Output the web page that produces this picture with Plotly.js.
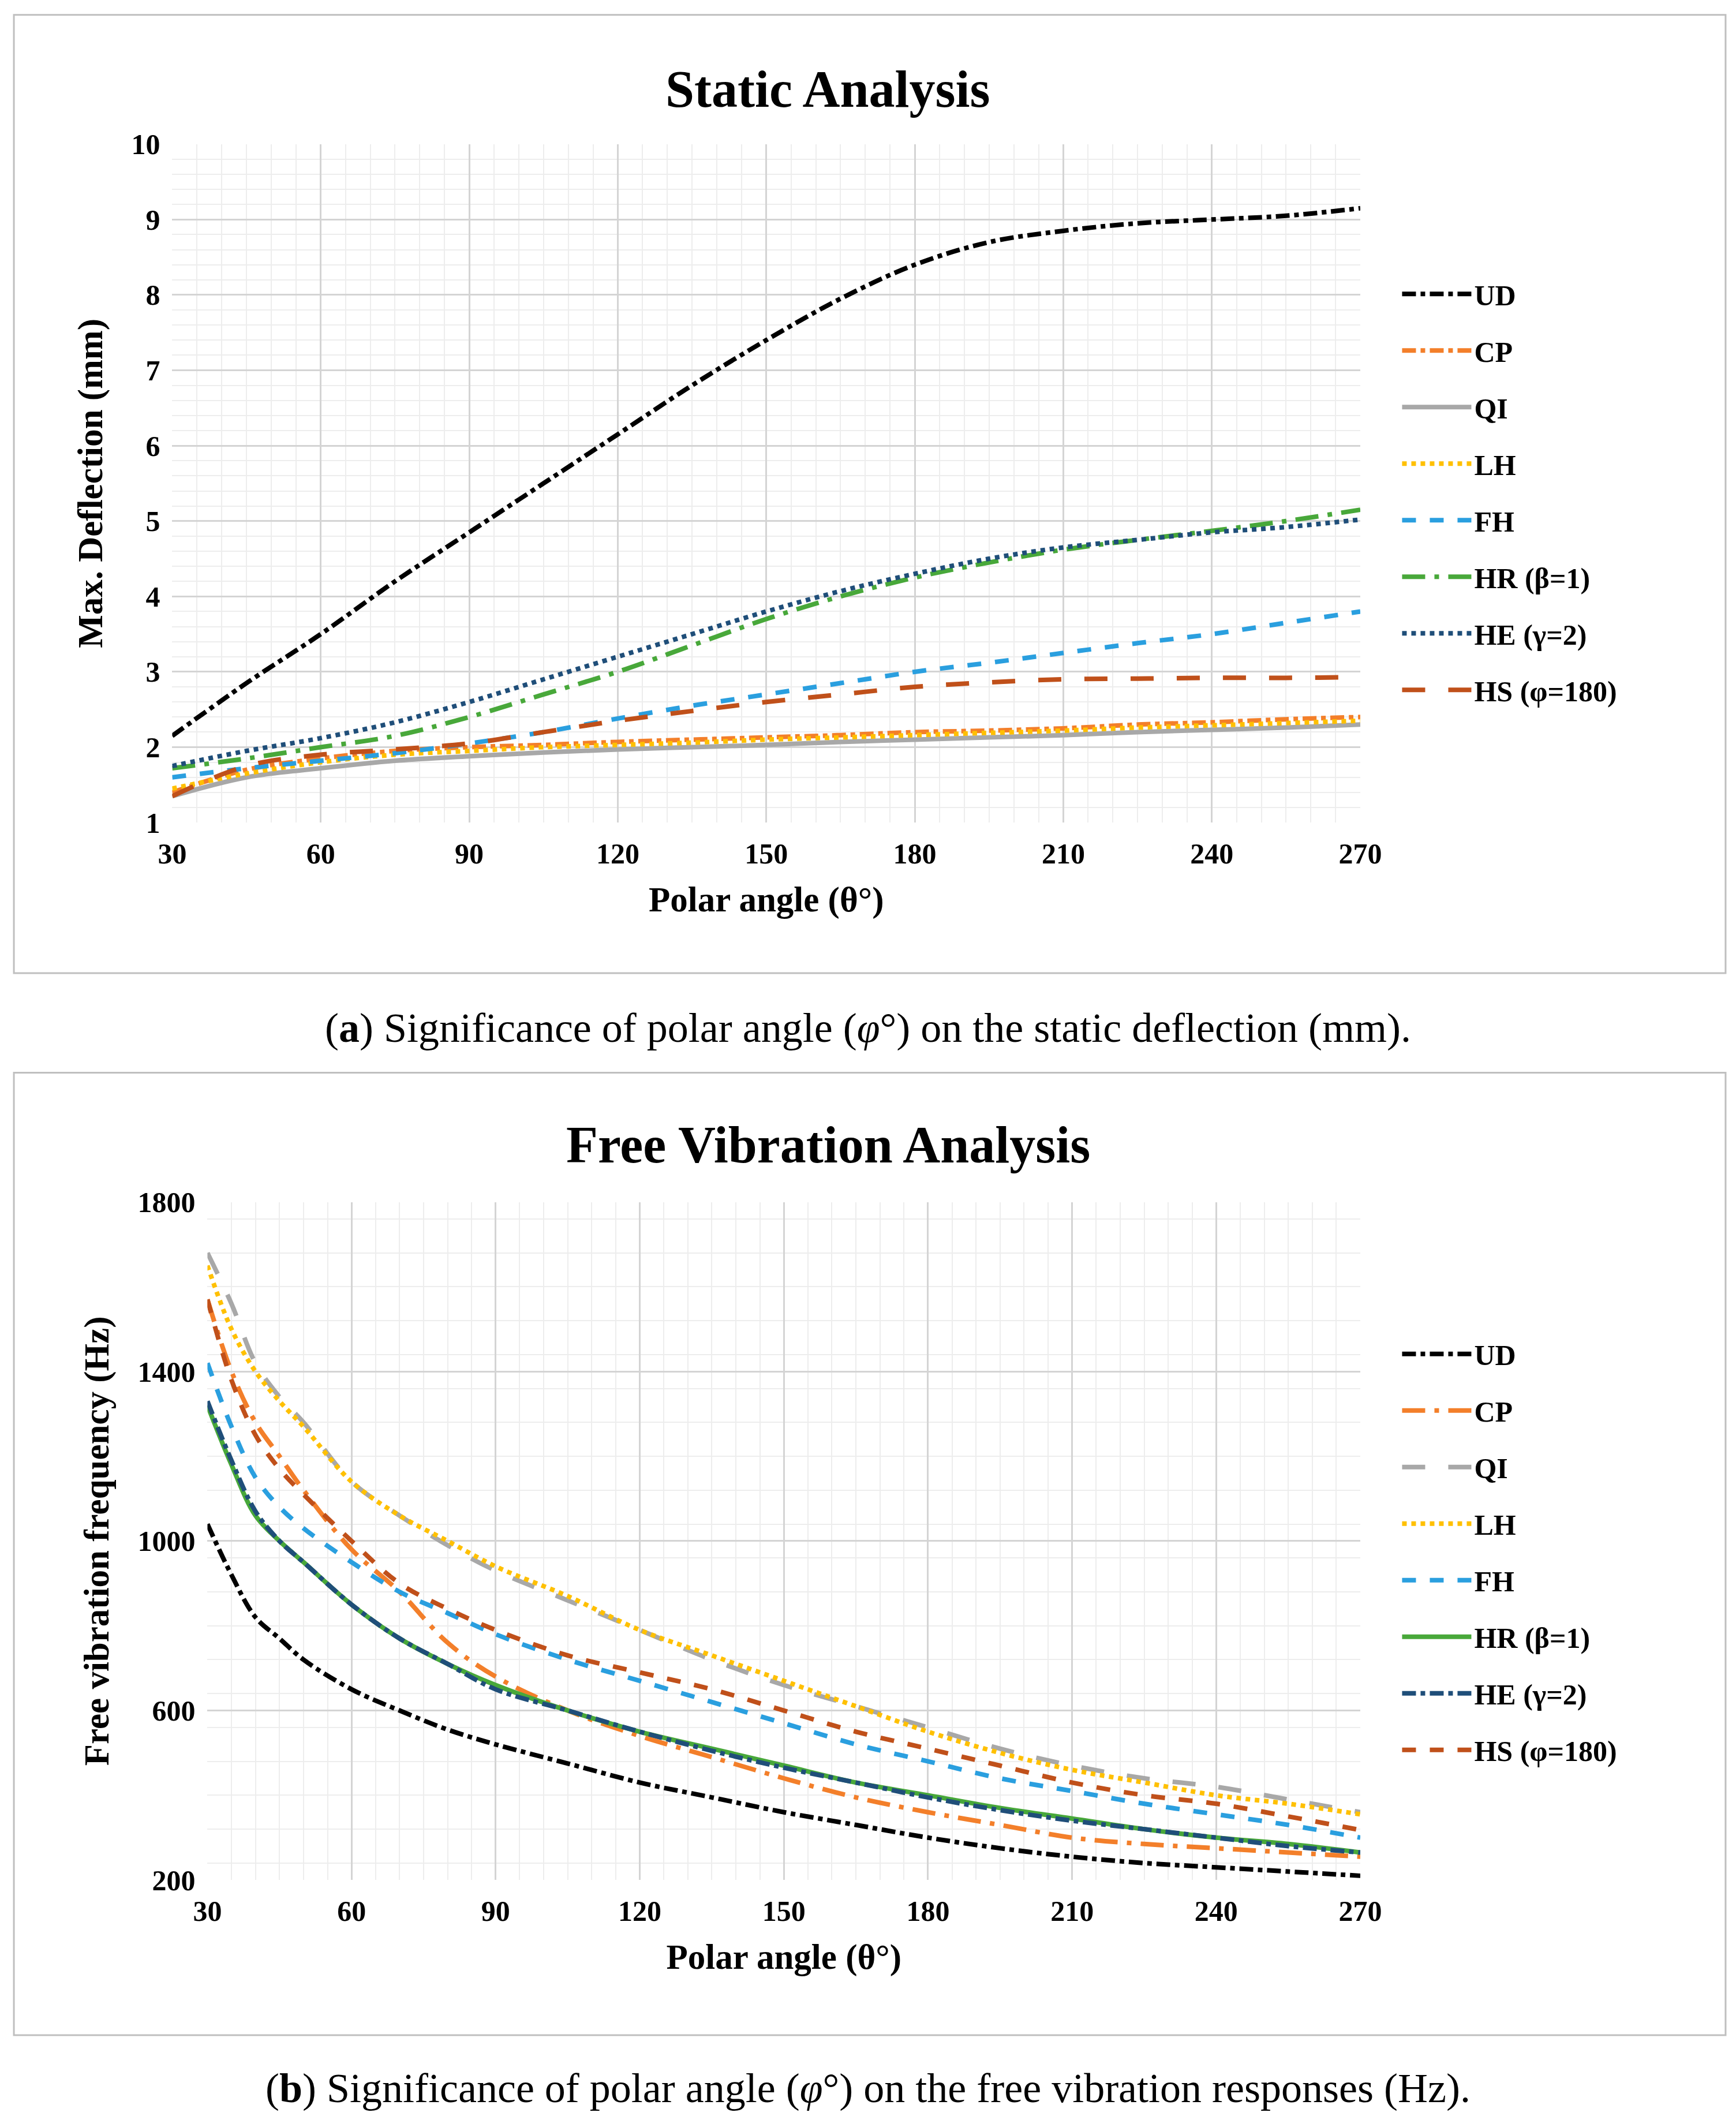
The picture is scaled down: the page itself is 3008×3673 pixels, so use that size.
<!DOCTYPE html>
<html>
<head>
<meta charset="utf-8">
<script src="https://cdn.plot.ly/plotly-3.0.1.min.js"></script>
<style>body{margin:0;background:#fff}#chart{width:3008px;height:3673px}</style>
</head>
<body>
<div id="chart"></div>
<script>
// series names
const names = ['UD', 'CP', 'QI', 'LH', 'FH', 'HR (β=1)', 'HE (γ=2)', 'HS (φ=180)'];

// static analysis: max deflection (mm)
const staticX = [30,45,60,75,90,105,120,135,150,165,180,195,210,225,240,255,270];
const staticUD = [2.15,2.85,3.5,4.2,4.85,5.5,6.15,6.8,7.4,7.95,8.4,8.7,8.85,8.95,9.0,9.05,9.15];
const staticCP = [1.4,1.7,1.85,1.95,2.0,2.03,2.07,2.1,2.13,2.16,2.2,2.22,2.25,2.3,2.33,2.37,2.4];
const staticQI = [1.35,1.6,1.72,1.82,1.88,1.93,1.97,2.0,2.03,2.07,2.1,2.13,2.16,2.2,2.23,2.26,2.3];
const staticLH = [1.45,1.65,1.8,1.9,1.95,2.0,2.03,2.06,2.1,2.13,2.16,2.19,2.22,2.26,2.29,2.32,2.35];
const staticFH = [1.6,1.72,1.82,1.92,2.05,2.2,2.38,2.55,2.7,2.85,3.0,3.12,3.25,3.38,3.5,3.65,3.8];
const staticHR = [1.72,1.85,2.0,2.15,2.4,2.7,3.0,3.35,3.7,4.0,4.25,4.45,4.62,4.75,4.87,5.0,5.15];
const staticHE = [1.75,1.95,2.12,2.33,2.6,2.9,3.2,3.5,3.8,4.07,4.3,4.5,4.65,4.75,4.85,4.92,5.02];
const staticHS = [1.35,1.75,1.9,1.97,2.05,2.2,2.35,2.48,2.6,2.7,2.8,2.86,2.9,2.91,2.92,2.92,2.93];

// free vibration frequency (Hz)
const freeX = [30,35,40,45,50,60,70,80,90,105,120,135,150,165,180,195,210,225,240,255,270];
const freeUD = [1040,920,820,770,720,650,600,555,520,475,430,395,360,330,300,275,255,240,230,220,210];
const freeCP = [1570,1400,1280,1200,1120,980,880,760,680,600,540,490,440,395,360,330,300,285,275,265,255];
const freeQI = [1680,1560,1420,1340,1280,1140,1060,990,930,860,790,720,660,610,560,510,470,440,420,390,360];
const freeLH = [1650,1500,1400,1330,1270,1140,1060,1000,940,870,790,730,670,610,550,500,460,430,400,380,355];
const freeFH = [1420,1270,1150,1080,1030,950,880,830,780,720,670,620,570,520,480,440,410,380,355,330,300];
const freeHR = [1320,1180,1060,1000,950,850,770,710,660,600,550,510,470,430,400,370,345,320,300,285,265];
const freeHE = [1330,1190,1070,1000,950,850,770,710,650,600,550,505,465,430,395,365,340,320,300,280,265];
const freeHS = [1570,1380,1250,1170,1110,1000,900,840,790,730,690,650,600,550,510,470,430,400,380,350,318];

const colors = ['#000000','#F37F2A','#A8A8A8','#FFC000','#2A9FDF','#48A83A','#1F4E79','#C0501A'];
const topDash = ['dashdot','dashdot','solid','dot','dash','longdashdot','dot','longdash'];
const botDash = ['dashdot','longdashdot','longdash','dot','dash','solid','dashdot','dash'];

const staticY = [staticUD,staticCP,staticQI,staticLH,staticFH,staticHR,staticHE,staticHS];
const freeY = [freeUD,freeCP,freeQI,freeLH,freeFH,freeHR,freeHE,freeHS];

const serif = 'Liberation Serif, Times New Roman, serif';
const traces = [];
names.forEach((n, i) => {
  traces.push({x: staticX, y: staticY[i], name: '<b>' + n + '</b>', mode: 'lines', line: {color: colors[i], width: 8, dash: topDash[i], shape: 'spline'},
    xaxis: 'x', yaxis: 'y', legend: 'legend', legendgroup: 'a' + i});
});
names.forEach((n, i) => {
  traces.push({x: freeX, y: freeY[i], name: '<b>' + n + '</b>', mode: 'lines', line: {color: colors[i], width: 8, dash: botDash[i], shape: 'spline'},
    xaxis: 'x2', yaxis: 'y2', legend: 'legend2', legendgroup: 'b' + i});
});

const tickFont = {family: serif, size: 50, color: '#000', weight: 'bold'};
const axTitleFont = {family: serif, size: 61, color: '#000'};
const minorGrid = d => ({dtick: d, showgrid: true, gridcolor: '#EDEDED', gridwidth: 2});
function axis(extra) {
  return Object.assign({
    showline: false, zeroline: false, ticks: '', gridcolor: '#D4D4D4', gridwidth: 3,
    tickfont: tickFont, ticklabelstandoff: 20
  }, extra);
}

const legendBase = {font: {family: serif, size: 50, color: '#000'}, tracegroupgap: 30, itemwidth: 120,
  bgcolor: 'rgba(0,0,0,0)', xanchor: 'left', yanchor: 'top'};

const layout = {
  width: 3008, height: 3673, margin: {l: 0, r: 0, t: 0, b: 0},
  paper_bgcolor: '#fff', plot_bgcolor: '#fff', showlegend: true,
  xaxis: axis({domain: [0.0992, 0.7836], range: [30, 270], dtick: 30, tick0: 30, minor: minorGrid(5),
    title: {text: '<b>Polar angle (θ°)</b>', font: axTitleFont, standoff: 30}}),
  yaxis: axis({domain: [0.612, 0.932], range: [1, 10], dtick: 1, minor: minorGrid(0.2),
    title: {text: '<b>Max. Deflection (mm)</b>', font: axTitleFont, standoff: 30}}),
  xaxis2: axis({domain: [0.1195, 0.7836], range: [30, 270], dtick: 30, tick0: 30, minor: minorGrid(5),
    anchor: 'y2', title: {text: '<b>Polar angle (θ°)</b>', font: axTitleFont, standoff: 30}}),
  yaxis2: axis({domain: [0.1132, 0.433], range: [200, 1800], dtick: 400, tick0: 200, minor: minorGrid(80),
    anchor: 'x2', title: {text: '<b>Free vibration frequency (Hz)</b>', font: axTitleFont, standoff: 30}}),
  legend: Object.assign({x: 0.806, y: 0.872}, legendBase),
  legend2: Object.assign({x: 0.806, y: 0.372}, legendBase),
  annotations: [
    {text: '<b>Static Analysis</b>', x: 0.477, y: 0.958, yanchor: 'middle', xref: 'paper', yref: 'paper', showarrow: false, font: {family: serif, size: 90, color: '#000'}},
    {text: '<b>Free Vibration Analysis</b>', x: 0.477, y: 0.46, yanchor: 'middle', xref: 'paper', yref: 'paper', showarrow: false, font: {family: serif, size: 90, color: '#000'}},
    {text: '(<b>a</b>) Significance of polar angle (<i>φ</i>°) on the static deflection (mm).', x: 0.5, y: 0.515, yanchor: 'middle', xref: 'paper', yref: 'paper',
      showarrow: false, font: {family: 'Liberation Serif, serif', size: 72, color: '#000'}},
    {text: '(<b>b</b>) Significance of polar angle (<i>φ</i>°) on the free vibration responses (Hz).', x: 0.5, y: 0.015, yanchor: 'middle', xref: 'paper', yref: 'paper',
      showarrow: false, font: {family: 'Liberation Serif, serif', size: 72, color: '#000'}}
  ],
  shapes: [
    {type: 'rect', xref: 'paper', yref: 'paper', x0: 0.008, x1: 0.994, y0: 0.541, y1: 0.993, line: {color: '#BFBFBF', width: 3}},
    {type: 'rect', xref: 'paper', yref: 'paper', x0: 0.008, x1: 0.994, y0: 0.04, y1: 0.494, line: {color: '#BFBFBF', width: 3}}
  ]
};

Plotly.newPlot('chart', traces, layout, {staticPlot: true});
</script>
</body>
</html>
